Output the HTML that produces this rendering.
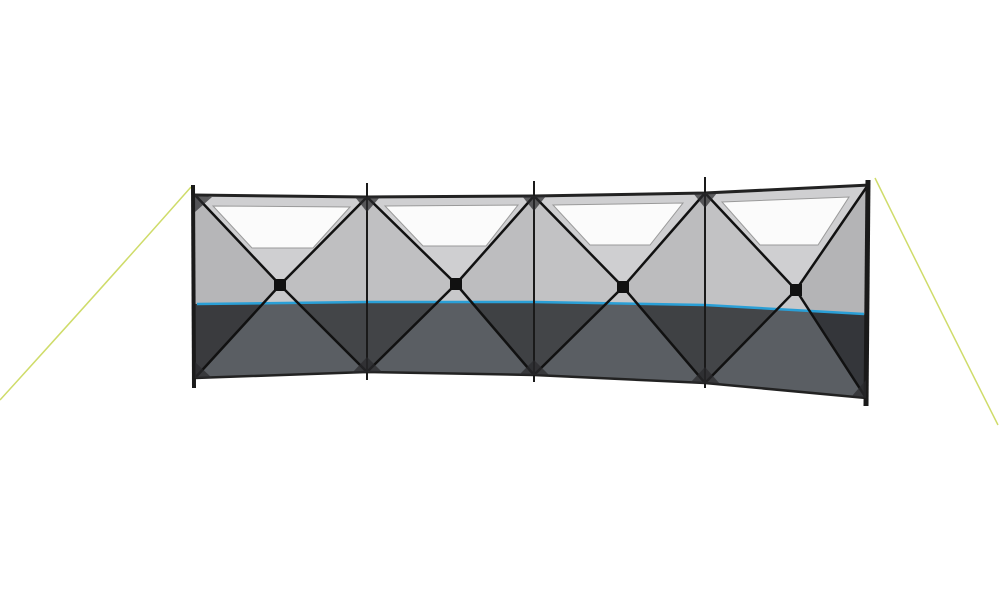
<!DOCTYPE html>
<html><head><style>html,body{margin:0;padding:0;background:#fff;}svg{display:block}</style></head>
<body>
<svg width="1000" height="600" viewBox="0 0 1000 600" xmlns="http://www.w3.org/2000/svg">
<defs>
<clipPath id="low1"><polygon points="190,304 370,302 370,400 190,400"/></clipPath>
<clipPath id="low2"><polygon points="364,302 537,302 537,400 364,400"/></clipPath>
<clipPath id="low3"><polygon points="531,302 708,305 708,400 531,400"/></clipPath>
<clipPath id="low4"><polygon points="702,305 872,315 872,410 702,410"/></clipPath>
</defs>
<path d="M191,187 Q100,290 0,400" stroke="#cfdc6a" stroke-width="1.5" fill="none"/>
<path d="M875,178 Q935,300 998,425" stroke="#cfdc6a" stroke-width="1.5" fill="none"/>

<g>
<polygon points="195,195 280,285 195,378" fill="#b6b6b8"/>
<polygon points="367,197 280,285 367,372" fill="#bfbfc1"/>
<polygon points="195,195 367,197 280,285" fill="#cfcfd1"/>
<polygon points="195,378 367,372 280,285" fill="#c8c8ca"/>
<g clip-path="url(#low1)">
<polygon points="195,195 280,285 195,378" fill="#3a3b3e"/>
<polygon points="367,197 280,285 367,372" fill="#434548"/>
<polygon points="195,378 367,372 280,285" fill="#5a5e63"/>
</g>
<polygon points="213,206 350,207 313,248 252,248" fill="#fbfbfb" stroke="#9a9a9a" stroke-width="1"/>
</g>
<g>
<polygon points="367,197 456,284 367,372" fill="#c0c0c2"/>
<polygon points="534,196 456,284 534,375" fill="#bdbdbf"/>
<polygon points="367,197 534,196 456,284" fill="#cfcfd1"/>
<polygon points="367,372 534,375 456,284" fill="#c8c8ca"/>
<g clip-path="url(#low2)">
<polygon points="367,197 456,284 367,372" fill="#424447"/>
<polygon points="534,196 456,284 534,375" fill="#3f4144"/>
<polygon points="367,372 534,375 456,284" fill="#5a5e63"/>
</g>
<polygon points="385,206 518,205 486,246 423,246" fill="#fbfbfb" stroke="#9a9a9a" stroke-width="1"/>
</g>
<g>
<polygon points="534,196 623,287 534,375" fill="#c2c2c4"/>
<polygon points="705,193 623,287 705,383" fill="#bcbcbe"/>
<polygon points="534,196 705,193 623,287" fill="#cfcfd1"/>
<polygon points="534,375 705,383 623,287" fill="#c8c8ca"/>
<g clip-path="url(#low3)">
<polygon points="534,196 623,287 534,375" fill="#434548"/>
<polygon points="705,193 623,287 705,383" fill="#3f4144"/>
<polygon points="534,375 705,383 623,287" fill="#5a5e63"/>
</g>
<polygon points="553,205 683,203 650,245 590,245" fill="#fbfbfb" stroke="#9a9a9a" stroke-width="1"/>
</g>
<g>
<polygon points="705,193 796,290 705,383" fill="#c2c2c4"/>
<polygon points="868,185 796,290 866,398" fill="#b4b4b6"/>
<polygon points="705,193 868,185 796,290" fill="#cfcfd1"/>
<polygon points="705,383 866,398 796,290" fill="#c8c8ca"/>
<g clip-path="url(#low4)">
<polygon points="705,193 796,290 705,383" fill="#434548"/>
<polygon points="868,185 796,290 866,398" fill="#34363a"/>
<polygon points="705,383 866,398 796,290" fill="#5a5e63"/>
</g>
<polygon points="722,202 849,197 818,245 760,245" fill="#fbfbfb" stroke="#9a9a9a" stroke-width="1"/>
</g>

<polyline points="197,304 367,302 534,302 705,305 864,314" stroke="#2a9fd6" stroke-width="2.5" fill="none"/>

<g stroke="#111" stroke-width="2.5" fill="none">
<polyline points="195,195 280,285 367,372"/><polyline points="367,197 280,285 195,378"/>
<polyline points="367,197 456,284 534,375"/><polyline points="534,196 456,284 367,372"/>
<polyline points="534,196 623,287 705,383"/><polyline points="705,193 623,287 534,375"/>
<polyline points="705,193 796,290 866,398"/><polyline points="868,185 796,290 705,383"/>
</g>
<polyline points="193,195 367,197 534,196 705,193 870,185" stroke="#222" stroke-width="3" fill="none"/>
<polyline points="195,378 367,372 534,375 705,383 866,398" stroke="#222" stroke-width="2.5" fill="none"/>
<g fill="#111">
<rect x="274" y="279" width="12" height="12"/>
<rect x="450" y="278" width="12" height="12"/>
<rect x="617" y="281" width="12" height="12"/>
<rect x="790" y="284" width="12" height="12"/>
</g>
<g stroke="#1a1a1a" fill="none">
<line x1="193" y1="185" x2="194" y2="388" stroke-width="4"/>
<line x1="367" y1="183" x2="367" y2="380" stroke-width="2"/>
<line x1="534" y1="181" x2="534" y2="382" stroke-width="2"/>
<line x1="705" y1="177" x2="705" y2="388" stroke-width="2"/>
<line x1="868" y1="180" x2="866" y2="406" stroke-width="5"/>
</g>
<g fill="#2a2a2c" opacity="0.7">
<polygon points="195,195 212,197 195,212"/>
<polygon points="355,197 380,197 367,212"/>
<polygon points="522,196 546,196 534,211"/>
<polygon points="693,193 717,193 705,208"/>
<polygon points="195,378 195,362 212,378"/>
<polygon points="352,373 382,372 367,357"/>
<polygon points="519,375 549,375 534,360"/>
<polygon points="690,383 720,384 705,367"/>
<polygon points="866,398 866,380 852,396"/>
</g>
</svg>
</body></html>
